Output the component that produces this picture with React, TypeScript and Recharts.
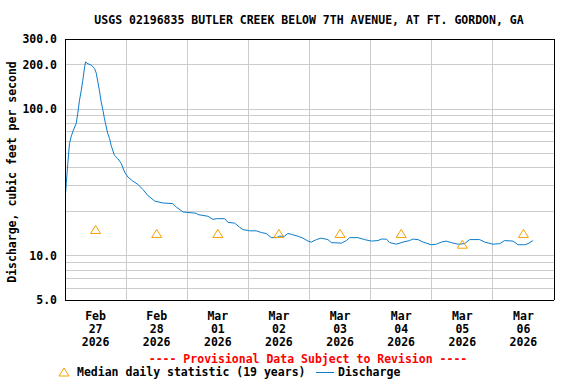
import { ComposedChart, Line, Scatter, XAxis, YAxis, ReferenceLine } from 'recharts'

// hours since Feb 27 2026 00:00
const dischargeHours = [
  0.2, 0.5, 1.1, 1.75, 2.4, 3.3, 4.4, 5.0, 5.7, 6.4, 7.0, 7.7, 8.1, 8.6, 10.3, 11.6, 12.3, 12.9,
  13.6, 14.2, 14.9, 15.5, 16.2, 16.8, 17.5, 18.1, 19.4, 20.7, 22.1, 23.4, 24.7, 26.6, 28.6, 30.6,
  32.5, 35.2, 38.4, 42.3, 43.7, 46.3, 51.5, 52.2, 56.1, 58.1, 59.4, 62.7, 64.0, 66.6, 68.5, 69.8,
  72.5, 75.1, 77.1, 79.0, 81.0, 83.0, 84.3, 86.2, 87.5, 88.9, 91.4, 93.4, 95.4, 96.7, 98.7, 100.6,
  103.2, 104.6, 108.5, 110.5, 111.8, 115.0, 117.6, 120.3, 122.9, 124.2, 126.2, 127.5, 130.1, 132.7,
  135.3, 136.6, 138.6, 140.6, 143.8, 145.8, 147.8, 149.7, 151.7, 154.3, 156.9, 158.9, 162.8, 164.8,
  168.0, 170.7, 172.6, 175.9, 177.9, 180.5, 181.8, 183.8,
]
const dischargeCfs = [
  26.5, 31, 42.6, 58, 64.6, 71.8, 79.8, 93, 115, 134.5, 157, 194, 210, 205, 199, 189, 175, 153,
  131, 112, 98, 86, 75.5, 68, 63, 56.6, 48.4, 46, 42.5, 37.2, 34.4, 32.3, 30.7, 28.3,
  25.8, 23.6, 22.9, 22.7, 21.5, 19.9, 19.5, 19.1, 18.6, 17.7, 17.9, 17.9, 16.9, 16.7, 15.7, 15.1,
  14.8, 14.8, 14.4, 14.2, 13.3, 13.3, 13.6, 13.6, 14.2, 14.0, 13.6, 13.2, 12.6, 12.4, 12.9, 13.2,
  12.9, 12.3, 12.2, 12.7, 13.3, 13.3, 12.9, 12.6, 12.7, 13.0, 13.0, 12.3, 12.0, 12.4,
  12.7, 13.0, 12.9, 12.4, 11.9, 12.0, 12.4, 12.6, 12.3, 12.0, 12.1, 12.9, 12.9, 12.4,
  12.0, 12.1, 12.7, 12.6, 11.9, 11.9, 12.1, 12.7,
]

const medianHours = [12, 36, 60, 84, 108, 132, 156, 180]
const medianCfs = [15.1, 14.2, 14.2, 14.2, 14.2, 14.2, 12.0, 14.2]

const tickMonths = ['Feb', 'Feb', 'Mar', 'Mar', 'Mar', 'Mar', 'Mar', 'Mar']
const tickDays = ['27', '28', '01', '02', '03', '04', '05', '06']
const tickYear = '2026'

const yTicks = [5, 10, 100, 200, 300]
const yGrid = [6, 7, 8, 9, 10, 20, 30, 40, 50, 60, 70, 80, 90, 100, 200]
const dayLines = [24, 48, 72, 96, 120, 144, 168]

const dischargeData = dischargeHours.map((t, i) => ({ t, v: dischargeCfs[i] }))
const medianData = medianHours.map((t, i) => ({ t, v: medianCfs[i] }))

const FONT = '"DejaVu Sans Mono", monospace'
const BLUE = '#0a7ccc'
const ORANGE = '#f5a000'

function DayTick(props: any) {
  const { x, y, payload } = props
  const i = medianHours.indexOf(payload.value)
  return (
    <text x={x} y={y} textAnchor="middle" fontFamily={FONT} fontWeight="bold" fontSize={11.5} fill="#000">
      <tspan x={x} dy={18}>{tickMonths[i]}</tspan>
      <tspan x={x} dy={13}>{tickDays[i]}</tspan>
      <tspan x={x} dy={13}>{tickYear}</tspan>
    </text>
  )
}

function Triangle(props: any) {
  const { cx, cy } = props
  return (
    <path
      d={`M${cx - 5},${cy + 4} L${cx + 5},${cy + 4} L${cx},${cy - 4} Z`}
      fill="none"
      stroke={ORANGE}
      strokeWidth={1}
    />
  )
}

const txt = {
  position: 'absolute' as const,
  fontFamily: FONT,
  fontWeight: 'bold' as const,
  fontSize: 11.5,
  whiteSpace: 'nowrap' as const,
  lineHeight: '14px',
}

export default function App() {
  return (
    <div style={{ position: 'absolute', left: 0, top: 0, width: 576, height: 384, background: '#fff' }}>
      <div style={{ ...txt, left: 309, top: 13, transform: 'translateX(-50%)' }}>
        USGS 02196835 BUTLER CREEK BELOW 7TH AVENUE, AT FT. GORDON, GA
      </div>
      <div style={{ ...txt, left: 12, top: 172, transform: 'translate(-50%, -50%) rotate(-90deg)' }}>
        Discharge, cubic feet per second
      </div>
      <ComposedChart width={576} height={384} margin={{ top: 39, right: 22, bottom: 0, left: 0 }}>
        <XAxis
          dataKey="t"
          type="number"
          domain={[0, 192]}
          ticks={medianHours}
          tick={<DayTick />}
          tickLine={false}
          axisLine={false}
          tickSize={0}
          height={84}
          allowDataOverflow
        />
        <YAxis
          type="number"
          scale="log"
          domain={[5, 300]}
          ticks={yTicks}
          tickFormatter={(v: number) => v.toFixed(1)}
          tick={{ fontFamily: FONT, fontWeight: 'bold', fontSize: 11.5, fill: '#000' }}
          tickLine={false}
          axisLine={false}
          tickSize={0}
          tickMargin={8}
          width={65}
          allowDataOverflow
        />
        {yGrid.map((g) => (
          <ReferenceLine key={'h' + g} y={g} stroke="#cccccc" strokeWidth={1} shapeRendering="crispEdges" />
        ))}
        {dayLines.map((d) => (
          <ReferenceLine key={'v' + d} x={d} stroke="#cccccc" strokeWidth={1} shapeRendering="crispEdges" />
        ))}
        <Line
          data={dischargeData}
          dataKey="v"
          type="linear"
          stroke={BLUE}
          strokeWidth={1}
          dot={false}
          activeDot={false}
          isAnimationActive={false}
        />
        <Scatter data={medianData} dataKey="v" shape={<Triangle />} isAnimationActive={false} />
        <ReferenceLine x={0} stroke="#000" shapeRendering="crispEdges" />
        <ReferenceLine x={192} stroke="#000" shapeRendering="crispEdges" />
        <ReferenceLine y={5} stroke="#000" shapeRendering="crispEdges" />
        <ReferenceLine y={300} stroke="#000" shapeRendering="crispEdges" />
      </ComposedChart>
      <div style={{ ...txt, left: 308, top: 352, transform: 'translateX(-50%)', color: '#ff0000' }}>
        ---- Provisional Data Subject to Revision ----
      </div>
      <svg style={{ position: 'absolute', left: 57, top: 366 }} width={14} height={12}>
        <path d="M2,10 L12,10 L7,2 Z" fill="none" stroke={ORANGE} strokeWidth={1} />
      </svg>
      <div style={{ ...txt, left: 77, top: 365 }}>Median daily statistic (19 years)</div>
      <svg style={{ position: 'absolute', left: 316, top: 366 }} width={18} height={12}>
        <line x1={0} y1={6.5} x2={18} y2={6.5} stroke={BLUE} strokeWidth={1} />
      </svg>
      <div style={{ ...txt, left: 338, top: 365 }}>Discharge</div>
    </div>
  )
}
